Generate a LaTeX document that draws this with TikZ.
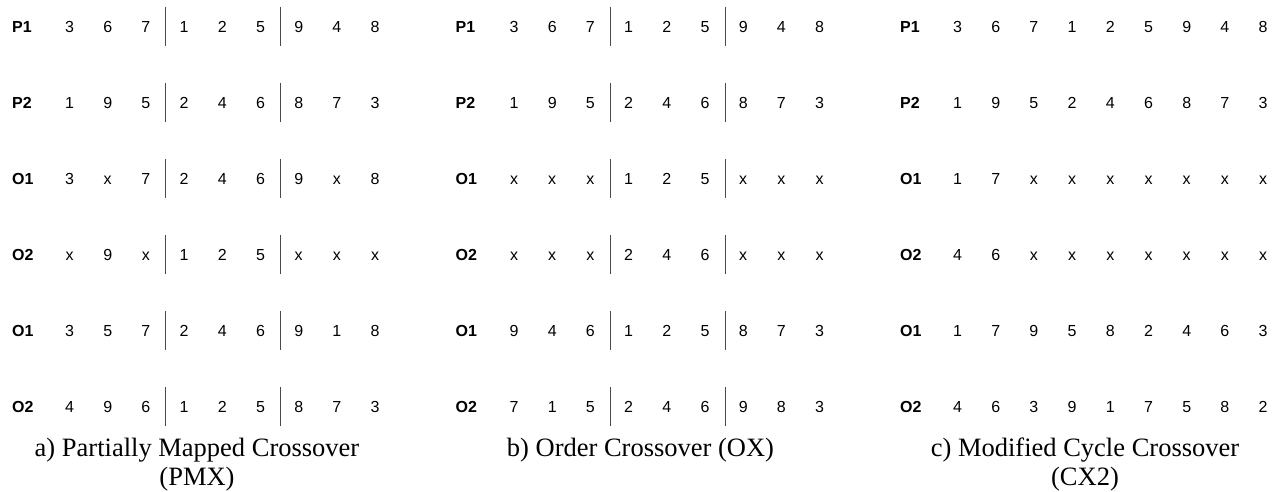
\documentclass[tikz,border=0pt]{standalone}
\usepackage{fontspec}
\setmainfont{Liberation Serif}
\setsansfont{Liberation Sans}
\usepackage{xcolor}
\definecolor{bar-grey}{HTML}{4A4A4A}

\begin{document}
\begin{tikzpicture}[x=1pt, y=-1pt,
    gene/.style={font=\fontsize{16}{16}\selectfont\sffamily, inner sep=0pt, anchor=base},
    tag/.style={font=\fontsize{16}{16}\selectfont\sffamily\bfseries, inner sep=0pt, anchor=base west},
    cut/.style={draw=bar-grey, line width=1pt},
    caption/.style={font=\fontsize{26.5}{29}\selectfont, inner sep=0pt, anchor=base,
      align=center}]
  \useasboundingbox (0,0) rectangle (1279,492);

  % a) PMX
  \foreach \r/\lab/\vals in {1/P1/{3,6,7,1,2,5,9,4,8}, 2/P2/{1,9,5,2,4,6,8,7,3},
      3/O1/{3,x,7,2,4,6,9,x,8}, 4/O2/{x,9,x,1,2,5,x,x,x},
      5/O1/{3,5,7,2,4,6,9,1,8}, 6/O2/{4,9,6,1,2,5,8,7,3}} {
    \node[tag] (a\r) at (12, 76*\r-43.7) {\lab};
    \foreach \v [count=\c] in \vals
      \node[gene] (a\r-\c) at (31.3+38.2*\c, 76*\r-43.7) {\v};
    \draw[cut] (165.5, 76*\r-69) -- ++(0,39);
    \draw[cut] (280.7, 76*\r-69) -- ++(0,39);
  }
  % base of a two-line node is its last line
  \node[caption] (capa) at (197, 485) {a) Partially Mapped Crossover\\(PMX)};

  % b) OX
  \begin{scope}[xshift=444.5pt]
    \foreach \r/\lab/\vals in {1/P1/{3,6,7,1,2,5,9,4,8}, 2/P2/{1,9,5,2,4,6,8,7,3},
        3/O1/{x,x,x,1,2,5,x,x,x}, 4/O2/{x,x,x,2,4,6,x,x,x},
        5/O1/{9,4,6,1,2,5,8,7,3}, 6/O2/{7,1,5,2,4,6,9,8,3}} {
      \node[tag] (b\r) at (11, 76*\r-43.7) {\lab};
      \foreach \v [count=\c] in \vals
        \node[gene] (b\r-\c) at (31.3+38.2*\c, 76*\r-43.7) {\v};
      \draw[cut] (165.5, 76*\r-69) -- ++(0,39);
      \draw[cut] (280.7, 76*\r-69) -- ++(0,39);
    }
    \node[caption] (capb) at (196, 456) {b) Order Crossover (OX)};
  \end{scope}

  % c) CX2
  \begin{scope}[xshift=888pt]
    \foreach \r/\lab/\vals in {1/P1/{3,6,7,1,2,5,9,4,8}, 2/P2/{1,9,5,2,4,6,8,7,3},
        3/O1/{1,7,x,x,x,x,x,x,x}, 4/O2/{4,6,x,x,x,x,x,x,x},
        5/O1/{1,7,9,5,8,2,4,6,3}, 6/O2/{4,6,3,9,1,7,5,8,2}} {
      \node[tag] (c\r) at (12, 76*\r-43.7) {\lab};
      \foreach \v [count=\c] in \vals
        \node[gene] (c\r-\c) at (31.3+38.2*\c, 76*\r-43.7) {\v};
    }
    \node[caption] (capc) at (197, 485) {c) Modified Cycle Crossover\\(CX2)};
  \end{scope}
\end{tikzpicture}
\end{document}
